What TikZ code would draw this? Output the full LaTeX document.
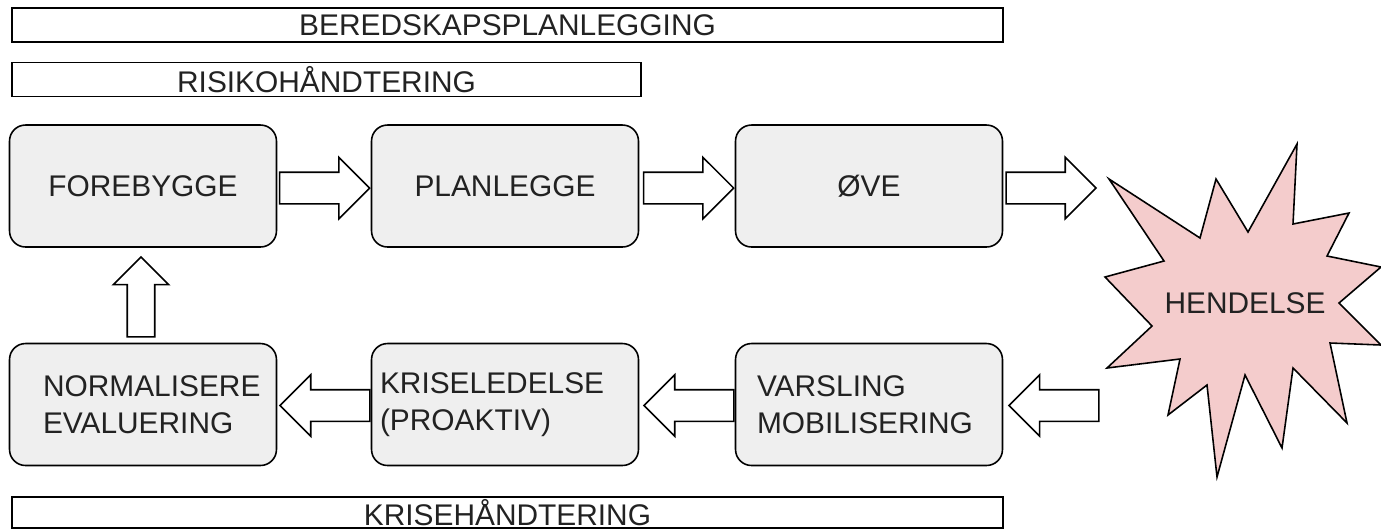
\documentclass[tikz,border=0pt]{standalone}
\usepackage{fontspec}
\setmainfont{Liberation Sans}
\usetikzlibrary{shapes.arrows,calc}
\definecolor{boxgray}{HTML}{EFEFEF}
\definecolor{starpink}{HTML}{F4CCCC}
\definecolor{textdark}{HTML}{222222}
\hyphenpenalty=10000
\tikzset{
  bar/.style={draw, line width=0.9pt, minimum width=19.82cm, minimum height=0.68cm, inner sep=0pt},
  stage/.style={draw, line width=0.9pt, fill=boxgray, rounded corners=0.32cm, minimum width=5.34cm, minimum height=2.44cm},
  bigarrow/.style={single arrow, draw, line width=0.9pt, fill=white, inner sep=0.3cm, single arrow head extend=0.3cm, minimum height=1.8cm},
}
\begin{document}
\begin{tikzpicture}[x=0.02cm, y=-0.02cm, every node/.style={font=\fontsize{17pt}{21pt}\selectfont, text=textdark}]
    \useasboundingbox (0,0) rectangle (1381,529);

    \node[bar] (bered) at (507.5,25) {BEREDSKAPSPLANLEGGING};
    \node[bar, minimum width=12.58cm] (risiko) at (326.5,79.5) {RISIKOHÅNDTERING};
    \node[bar, minimum height=0.62cm] (krise) at (507.5,512.5) {KRISEHÅNDTERING};

    \node[stage] (fore) at (143,186) {FOREBYGGE};
    \node[stage] (plan) at (505,186) {PLANLEGGE};
    \node[stage] (ove) at (869,186) {ØVE};
    \node[stage, align=left, inner xsep=0.67cm, text width=4cm] (norm) at (143,404.5) {NORMALISERE\\EVALUERING};
    \node[stage, align=left, inner xsep=0.17cm, text width=5cm] (kris) at (505,404.5) {KRISELEDELSE\\(PROAKTIV)};
    \node[stage, align=left, inner xsep=0.43cm, text width=4.48cm] (vars) at (869,404.5) {VARSLING\\MOBILISERING};

    \draw[line width=0.9pt, fill=starpink, line join=miter]
        (1297,144) -- (1293,224) -- (1349,213) -- (1327,256) -- (1381,267) -- (1339,303)
        -- (1381,345) -- (1330,343) -- (1347,423) -- (1293,368) -- (1282,448) -- (1245,375)
        -- (1217,477) -- (1207,385) -- (1168,415) -- (1180,359) -- (1107,368) -- (1152,326)
        -- (1105,277) -- (1164,261) -- (1109,179) -- (1200,238) -- (1216,179) -- (1248,232) -- cycle;
    \node (hend) at (1245,303) {HENDELSE};

    \node[bigarrow, anchor=tip] (a1) at ($(plan.west)+(0,2)$) {};
    \node[bigarrow, anchor=tip] (a2) at ($(ove.west)+(0,2)$) {};
    \node[bigarrow, anchor=tail] (a3) at ($(ove.east)+(2,2)$) {};
    \node[bigarrow, anchor=tip, shape border rotate=180] (a4) at ($(vars.east)+(4.5,1)$) {};
    \node[bigarrow, anchor=tail, shape border rotate=180] (a5) at ($(vars.west)+(0,1)$) {};
    \node[bigarrow, anchor=tail, shape border rotate=180] (a6) at ($(kris.west)+(0,1)$) {};
    \node[bigarrow, anchor=tip, shape border rotate=90, inner sep=0.26cm, single arrow head extend=0.28cm, minimum height=1.6cm] (a7) at ($(fore.south)+(-2,8)$) {};
\end{tikzpicture}
\end{document}
